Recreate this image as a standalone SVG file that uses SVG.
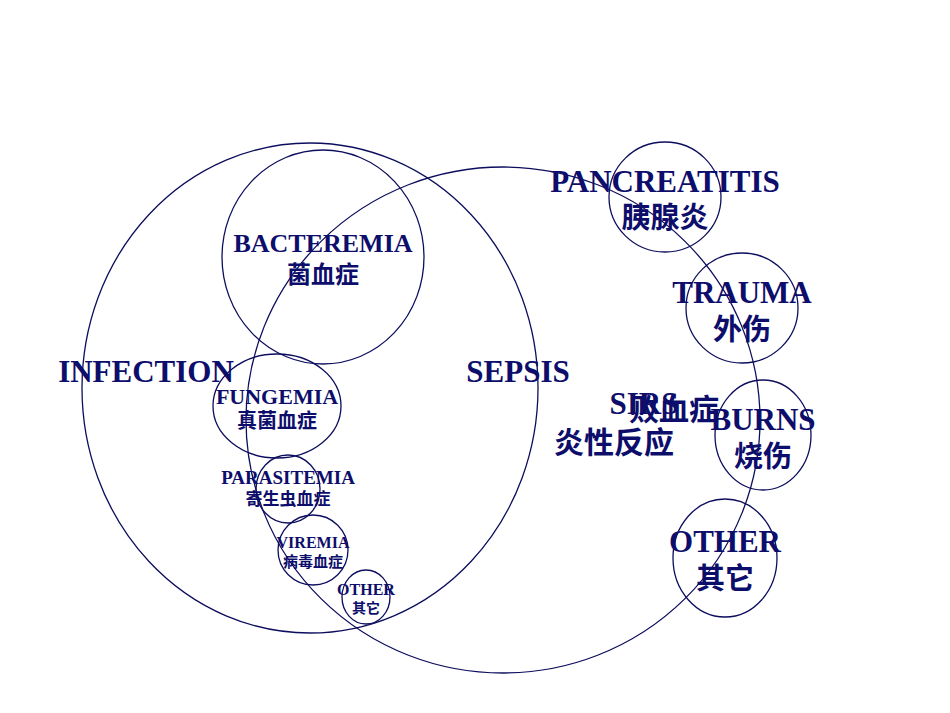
<svg xmlns="http://www.w3.org/2000/svg" width="950" height="713" viewBox="0 0 950 713">
<style>
ellipse{fill:none;stroke:#0d0d5e;stroke-width:1.3}
text{fill:#0d0d6b;font-family:"Liberation Serif","Noto Sans CJK SC",serif;font-weight:bold;text-anchor:middle}
.cn{font-family:"Noto Sans CJK SC",sans-serif}
</style>
<rect width="950" height="713" fill="#fff"/>
<g id="infection"><ellipse cx="310" cy="388" rx="228" ry="245"/><text x="146" y="382" font-size="31">INFECTION</text></g>
<g id="sepsis"><ellipse cx="503" cy="420" rx="257" ry="253"/><text x="518" y="382" font-size="31">SEPSIS</text></g>
<g id="bacteremia"><ellipse cx="323" cy="257" rx="101" ry="107"/><text x="323" y="252" font-size="26">BACTEREMIA</text><text class="cn" x="323" y="283" font-size="24" font-weight="normal">菌血症</text></g>
<g id="fungemia"><ellipse cx="277" cy="406" rx="64" ry="52"/><text x="277" y="404" font-size="22">FUNGEMIA</text><text class="cn" x="277" y="428" font-size="20" font-weight="normal">真菌血症</text></g>
<g id="parasitemia"><ellipse cx="288" cy="489" rx="32" ry="34"/><text x="288" y="484" font-size="19">PARASITEMIA</text><text class="cn" x="288" y="505" font-size="17" font-weight="normal">寄生虫血症</text></g>
<g id="viremia"><ellipse cx="313" cy="550" rx="35" ry="35"/><text x="313" y="548" font-size="16">VIREMIA</text><text class="cn" x="313" y="567" font-size="15" font-weight="normal">病毒血症</text></g>
<g id="other1"><ellipse cx="366" cy="597" rx="24" ry="27"/><text x="366" y="595" font-size="16">OTHER</text><text class="cn" x="366" y="613" font-size="14" font-weight="normal">其它</text></g>
<g id="pancreatitis"><ellipse cx="665" cy="197" rx="56" ry="55"/><text x="665" y="192" font-size="31">PANCREATITIS</text><text class="cn" x="665" y="228" font-size="29" font-weight="normal">胰腺炎</text></g>
<g id="trauma"><ellipse cx="742" cy="308" rx="56" ry="55"/><text x="742" y="303" font-size="31">TRAUMA</text><text class="cn" x="742" y="340" font-size="29" font-weight="normal">外伤</text></g>
<g id="burns"><ellipse cx="763" cy="435" rx="48" ry="55"/><text x="763" y="430" font-size="31">BURNS</text><text class="cn" x="763" y="467" font-size="29" font-weight="normal">烧伤</text></g>
<g id="other2"><ellipse cx="725" cy="558" rx="52" ry="59"/><text x="725" y="552" font-size="31">OTHER</text><text class="cn" x="725" y="589" font-size="29" font-weight="normal">其它</text></g>
<g id="sirs"><text x="644" y="414" font-size="31">SIRS</text><text class="cn" x="674" y="420" font-size="30">败血症</text><text class="cn" x="614" y="453" font-size="30">炎性反应</text></g>
<g id="connectors"/>
</svg>
